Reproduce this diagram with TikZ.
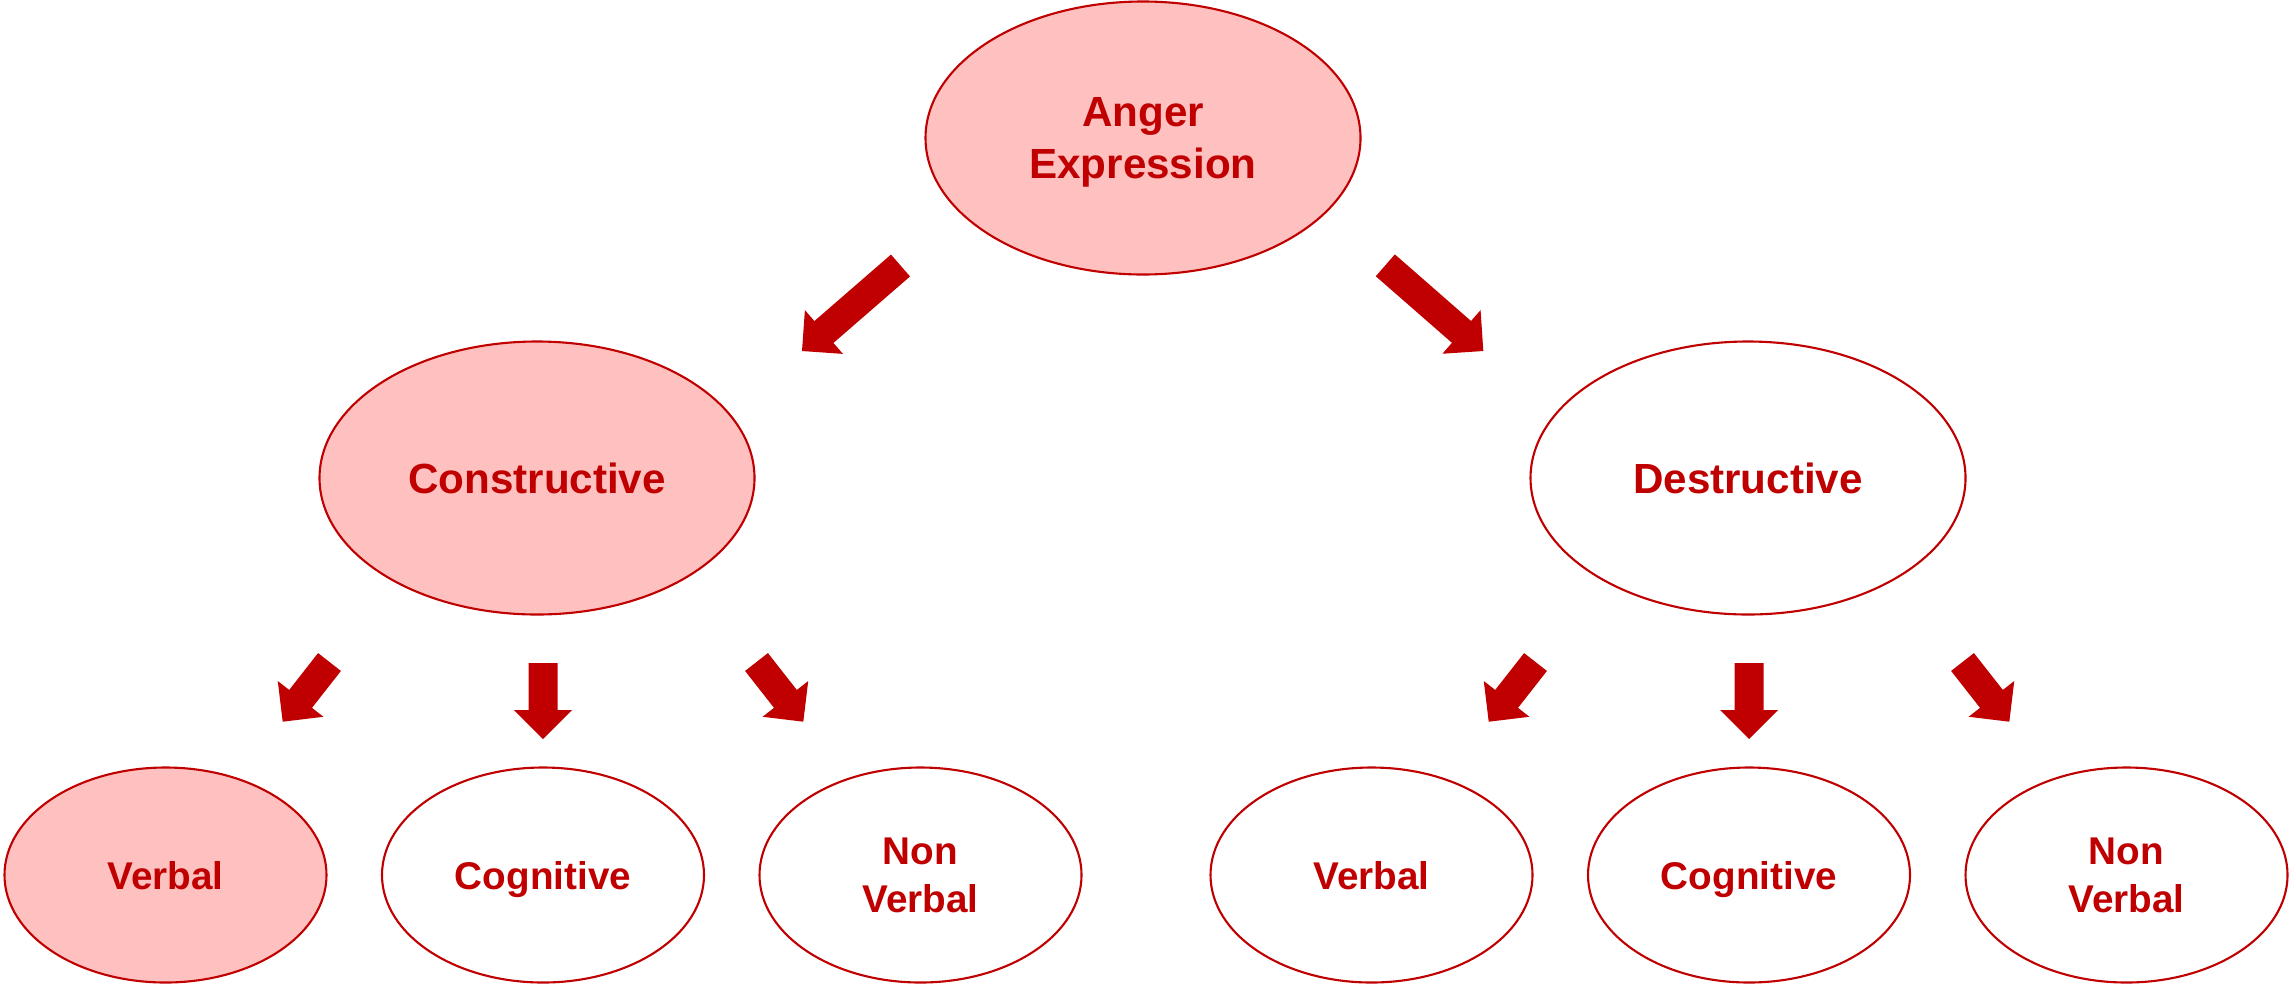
\documentclass[tikz,border=0pt]{standalone}
\usepackage{fontspec}
\setmainfont{Liberation Sans}
\usetikzlibrary{shapes.geometric,calc}
\definecolor{angerred}{HTML}{C00000}
\definecolor{angerpink}{HTML}{FFC0C0}
\newcommand{\shaftw}{0.145cm}
\newcommand{\headw}{0.29cm}
\newcommand{\headl}{0.29cm}
\newcommand{\fatarrow}[2]{%
  \fill[angerred] ($(#1)!\shaftw!90:(#2)$)
    -- ($(#2)!\headl!(#1)!\shaftw!90:(#2)$)
    -- ($(#2)!\headl!(#1)!\headw!90:(#2)$)
    -- (#2)
    -- ($(#2)!\headl!(#1)!\headw!-90:(#2)$)
    -- ($(#2)!\headl!(#1)!\shaftw!-90:(#2)$)
    -- ($(#1)!\shaftw!-90:(#2)$) -- cycle;}
\begin{document}
\begin{tikzpicture}[
  every node/.style={text=angerred, align=center, inner sep=2pt, text depth=0pt},
  big/.style={ellipse, draw=angerred, line width=0.6pt, minimum width=4.35cm, minimum height=2.73cm,
    font=\bfseries\fontsize{12}{14.7}\selectfont},
  small/.style={ellipse, draw=angerred, line width=0.6pt, minimum width=3.22cm, minimum height=2.15cm,
    font=\bfseries\fontsize{11}{13.5}\selectfont},
  hot/.style={fill=angerpink}]
  \useasboundingbox (0,0) rectangle (22.9,-9.84);

  \node[big,hot] (anger) at (11.43,-1.38) {Anger\\Expression};
  \node[big,hot] (cons) at (5.37,-4.78) {Constructive};
  \node[big] (des) at (17.48,-4.78) {Destructive};

  \node[small,hot] (verb1) at (1.655,-8.75) {Verbal};
  \node[small] (cog1) at (5.43,-8.75) {Cognitive};
  \node[small] (nonv1) at (9.205,-8.75) {Non\\Verbal};
  \node[small] (verb2) at (13.715,-8.75) {Verbal};
  \node[small] (cog2) at (17.49,-8.75) {Cognitive};
  \node[small] (nonv2) at (21.265,-8.75) {Non\\Verbal};

  \coordinate (a1) at (9.005,-2.655);  \coordinate (a2) at (8.02,-3.51);
  \coordinate (b1) at (13.853,-2.653); \coordinate (b2) at (14.833,-3.51);
  \coordinate (c1) at (3.295,-6.62);   \coordinate (c2) at (2.827,-7.217);
  \coordinate (d1) at (5.43,-6.63);    \coordinate (d2) at (5.43,-7.39);
  \coordinate (e1) at (7.565,-6.62);   \coordinate (e2) at (8.033,-7.217);
  \coordinate (f1) at (15.355,-6.62);  \coordinate (f2) at (14.887,-7.217);
  \coordinate (g1) at (17.49,-6.63);   \coordinate (g2) at (17.49,-7.39);
  \coordinate (h1) at (19.625,-6.62);  \coordinate (h2) at (20.093,-7.217);

  \foreach \s/\t in {a1/a2,b1/b2,c1/c2,d1/d2,e1/e2,f1/f2,g1/g2,h1/h2}
    \fatarrow{\s}{\t};
\end{tikzpicture}
\end{document}
